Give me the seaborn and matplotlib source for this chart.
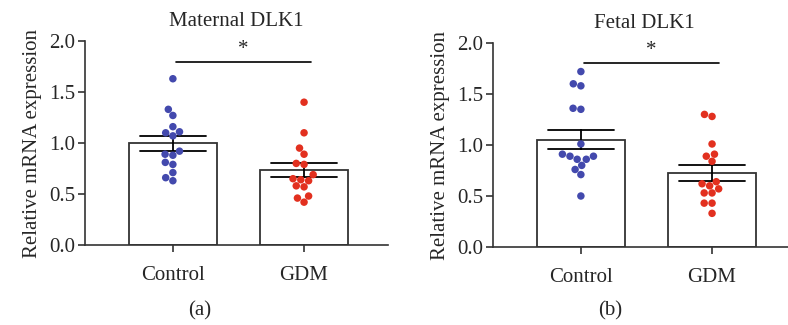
import numpy as np
import pandas as pd
import matplotlib
matplotlib.use("Agg")
import matplotlib.pyplot as plt
import seaborn as sns

groups = ["Control", "GDM"]

maternal_control = [1.63, 1.33, 1.27, 1.16, 1.10, 1.07, 1.11, 0.89, 0.92, 0.88,
                    0.81, 0.79, 0.71, 0.66, 0.63]
maternal_gdm = [1.40, 1.10, 0.95, 0.89, 0.79, 0.80, 0.69, 0.64, 0.58, 0.57,
                0.63, 0.65, 0.48, 0.42, 0.46]
fetal_control = [1.72, 1.60, 1.58, 1.35, 1.36, 1.01, 0.91, 0.89, 0.86, 0.86,
                 0.89, 0.80, 0.76, 0.71, 0.50]
fetal_gdm = [1.28, 1.30, 1.01, 0.91, 0.89, 0.84, 0.64, 0.60, 0.53, 0.53,
             0.57, 0.62, 0.43, 0.43, 0.33]

titles = ["Maternal DLK1", "Fetal DLK1"]
panel_labels = ["(a)", "(b)"]
sig_y = [1.79, 1.80]

palette = {"Control": "#4349ad", "GDM": "#e2301f"}

sns.set_style("ticks")
plt.rcParams["font.family"] = ["Liberation Serif", "DejaVu Serif"]
plt.rcParams["font.size"] = 15

fig = plt.figure(figsize=(7.88, 3.25), dpi=100)
W, H = 788, 325
# axes boxes in pixels: left, right, bottom (y=0), top (y=2)
boxes = [(85, 388, 245, 41), (493, 796, 247, 43)]
label_x = [200, 610]

datasets = [(maternal_control, maternal_gdm), (fetal_control, fetal_gdm)]

for i, (ctrl, gdm) in enumerate(datasets):
    l, r, b, t = boxes[i]
    ax = fig.add_axes([l / W, 1 - b / H, (r - l) / W, (b - t) / H])
    df = pd.DataFrame({
        "group": ["Control"] * len(ctrl) + ["GDM"] * len(gdm),
        "value": ctrl + gdm,
    })
    sns.barplot(data=df, x="group", y="value", order=groups, color="white",
                saturation=1, edgecolor="#333333", linewidth=1.3, width=0.67,
                errorbar="se", capsize=0.5,
                err_kws={"color": "black", "linewidth": 1.3}, ax=ax)
    sns.swarmplot(data=df, x="group", y="value", order=groups, hue="group",
                  palette=palette, size=5.4, legend=False, ax=ax, zorder=5)
    ax.plot([0.02, 1.05], [sig_y[i], sig_y[i]], color="black", lw=1.2)
    ax.text(0.54, sig_y[i] + 0.03, "*", ha="center", va="bottom", fontsize=15)

    ax.set_xlim(-0.67, 1.64)
    ax.set_ylim(0, 2.0)
    ax.set_yticks([0, 0.5, 1.0, 1.5, 2.0])
    ax.set_yticklabels(["0.0", "0.5", "1.0", "1.5", "2.0"])
    ax.set_xlabel("")
    ax.set_ylabel("Relative mRNA expression", fontsize=15, labelpad=5)
    ax.set_title(titles[i], fontsize=15, pad=11)
    ax.tick_params(axis="both", labelsize=15, length=5, width=1.2,
                   color="#333333")
    ax.tick_params(axis="x", pad=10)
    ax.tick_params(axis="y", pad=2)
    for s in ["left", "bottom"]:
        ax.spines[s].set_linewidth(1.2)
        ax.spines[s].set_color("#333333")
    sns.despine(ax=ax)

    fig.text(label_x[i] / W, 1 - 311 / H, panel_labels[i],
             ha="center", va="center", fontsize=15)

fig.savefig("out.png", dpi=100)
